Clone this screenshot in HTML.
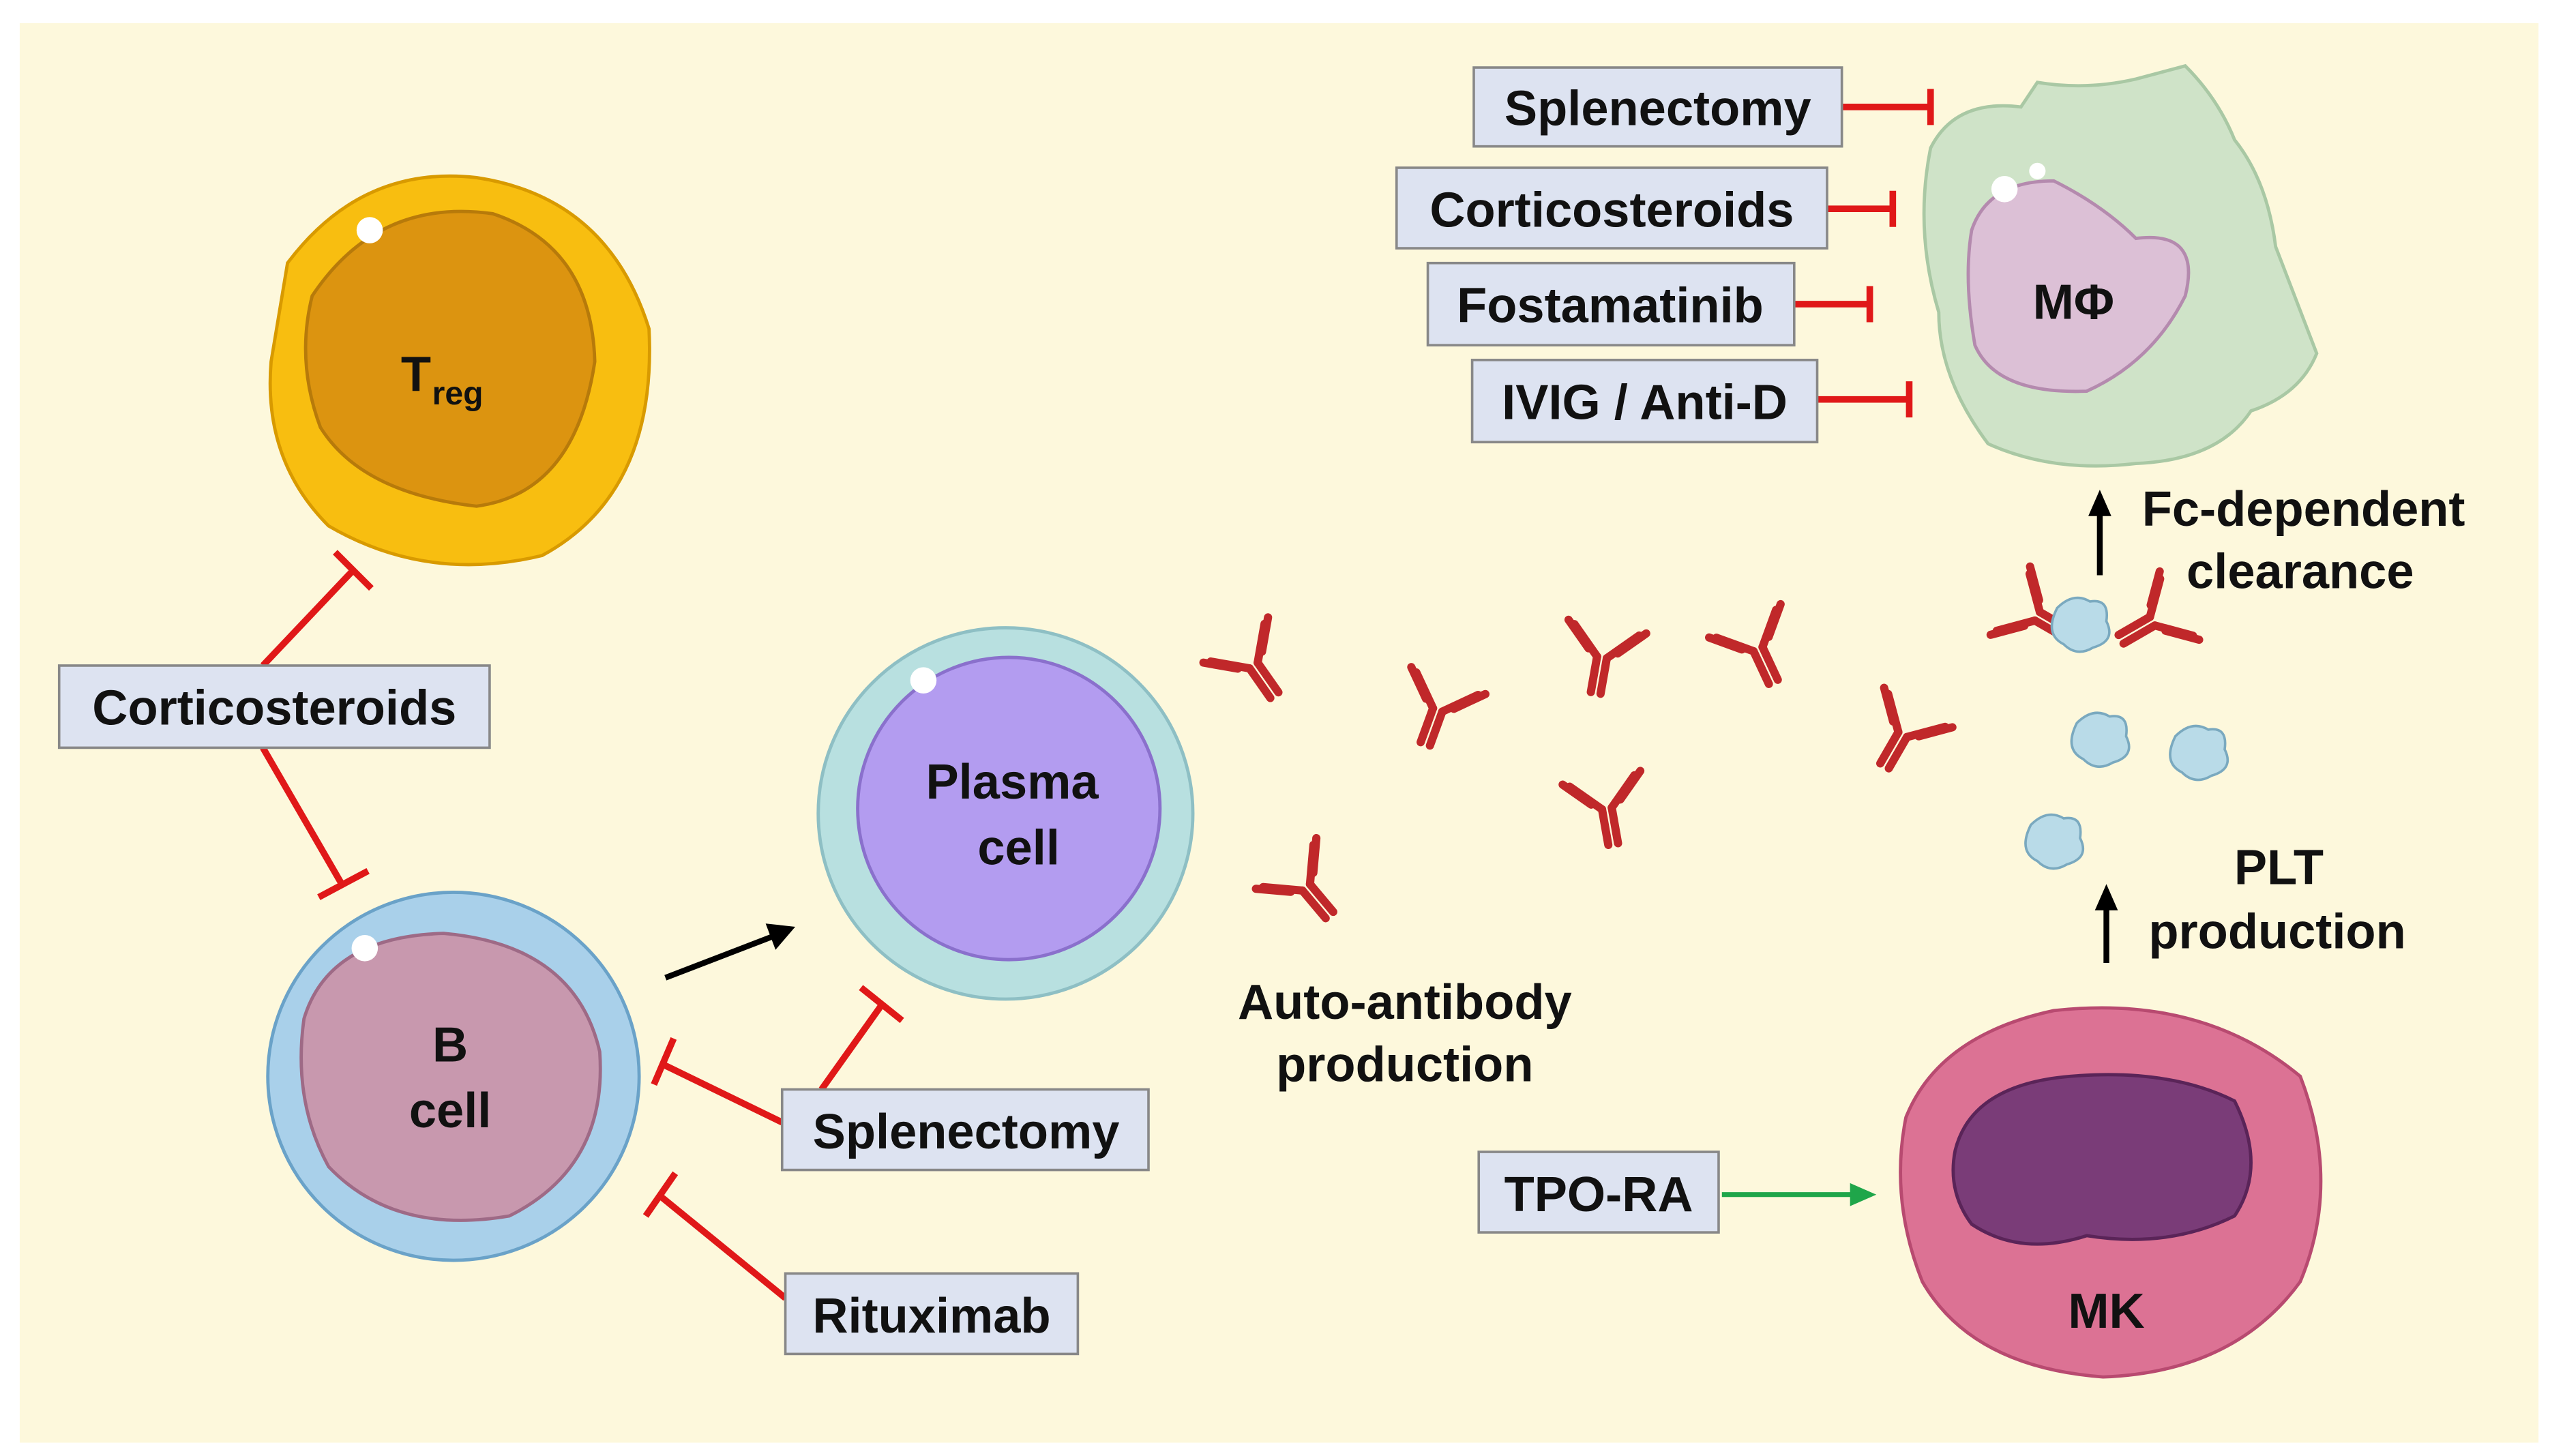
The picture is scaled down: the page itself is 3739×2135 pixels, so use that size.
<!DOCTYPE html>
<html><head><meta charset="utf-8"><style>
html,body{margin:0;padding:0;background:#fff;}
svg{display:block;}
text{font-family:"Liberation Sans",Arial,sans-serif;font-weight:bold;fill:#111;}
</style></head><body>
<svg width="3739" height="2135" viewBox="0 0 1552 886" xmlns="http://www.w3.org/2000/svg">
<defs>
<g id="ab">
 <path d="M0,0 L0,-22 M0,0 L-18,-14 M0,-22 L-20,-36 M0,-22 L20,-36 M0,0 L18,-14" stroke="none"/>
 <g stroke="#c0282a" stroke-width="5" stroke-linecap="round" fill="none">
  <line x1="-3" y1="22" x2="-3" y2="0"/><line x1="3" y1="22" x2="3" y2="0"/>
  <line x1="-3" y1="0" x2="-20" y2="-17"/><line x1="3" y1="0" x2="20" y2="-17"/>
  <line x1="-9" y1="-4" x2="-24" y2="-19"/><line x1="9" y1="-4" x2="24" y2="-19"/>
 </g>
</g>
<g id="plt"><path d="M-14,-10 Q-4,-20 6,-14 Q18,-16 16,-2 Q22,10 8,14 Q-2,20 -10,12 Q-22,6 -14,-10Z" fill="#b9dbe8" stroke="#7aa9bf" stroke-width="1.5"/></g>
</defs>
<rect width="1552" height="886" fill="#fff"/>
<rect x="12" y="14" width="1533" height="864" fill="#fdf8dc"/>

<!-- Treg -->
<path d="M175,160 Q220,100 290,108 Q370,120 395,200 Q400,300 330,338 Q260,355 200,320 Q160,280 165,220 Z" fill="#f8be10" stroke="#d89a00" stroke-width="2"/>
<path d="M190,180 Q230,120 300,130 Q360,150 362,220 Q350,300 290,308 Q220,300 195,260 Q180,220 190,180Z" fill="#dc9410" stroke="#b77a0a" stroke-width="2"/>
<circle cx="225" cy="140" r="8" fill="#fff"/>
<text x="244" y="238" font-size="30">T</text><text x="263" y="246" font-size="20">reg</text>

<!-- Corticosteroids left -->
<g stroke="#e01818" stroke-width="4" fill="none">
<line x1="160" y1="405" x2="214" y2="348"/><line x1="204" y1="336" x2="226" y2="358"/>
<line x1="160" y1="455" x2="208" y2="538"/><line x1="194" y1="546" x2="224" y2="530"/>
<line x1="476" y1="683" x2="404" y2="648"/><line x1="398" y1="660" x2="410" y2="632"/>
<line x1="500" y1="663" x2="537" y2="611"/><line x1="524" y1="601" x2="549" y2="621"/>
<line x1="478" y1="790" x2="402" y2="728"/><line x1="393" y1="740" x2="411" y2="714"/>
<line x1="1121" y1="65" x2="1175" y2="65"/><line x1="1175" y1="54" x2="1175" y2="76"/>
<line x1="1112" y1="127" x2="1152" y2="127"/><line x1="1152" y1="116" x2="1152" y2="138"/>
<line x1="1092" y1="185" x2="1138" y2="185"/><line x1="1138" y1="174" x2="1138" y2="196"/>
<line x1="1106" y1="243" x2="1162" y2="243"/><line x1="1162" y1="232" x2="1162" y2="254"/>
</g>

<!-- B cell -->
<ellipse cx="276" cy="655" rx="113" ry="112" fill="#a9d0ea" stroke="#6aa2c8" stroke-width="2"/>
<path d="M185,620 Q200,570 270,568 Q350,575 365,640 Q370,710 310,740 Q240,752 200,710 Q178,670 185,620Z" fill="#c898ae" stroke="#9e6a86" stroke-width="2"/>
<circle cx="222" cy="577" r="8" fill="#fff"/>
<text x="274" y="646" font-size="30" text-anchor="middle">B</text>
<text x="274" y="686" font-size="30" text-anchor="middle">cell</text>

<!-- arrow -->
<line x1="405" y1="595" x2="470" y2="570" stroke="#000" stroke-width="3.5"/>
<polygon points="484,564 466,562 472,578" fill="#000"/>

<!-- Plasma cell -->
<ellipse cx="612" cy="495" rx="114" ry="113" fill="#b8e0e0" stroke="#8ebfc4" stroke-width="2"/>
<ellipse cx="614" cy="492" rx="92" ry="92" fill="#b39cf0" stroke="#8a70cc" stroke-width="2"/>
<circle cx="562" cy="414" r="8" fill="#fff"/>
<text x="616" y="486" font-size="30" text-anchor="middle">Plasma</text>
<text x="620" y="526" font-size="30" text-anchor="middle">cell</text>

<!-- Macrophage -->
<path d="M1175,90 Q1190,60 1230,65 L1240,50 Q1270,55 1300,48 L1330,40 Q1350,60 1360,85 Q1380,110 1385,150 L1410,215 Q1400,240 1370,250 Q1350,280 1300,282 Q1250,288 1210,270 Q1180,230 1180,190 Q1165,140 1175,90Z" fill="#cfe3c8" stroke="#a9c8a4" stroke-width="2"/>
<path d="M1200,140 Q1210,110 1250,110 Q1280,125 1300,145 Q1340,140 1330,180 Q1310,220 1270,238 Q1215,240 1202,210 Q1195,170 1200,140Z" fill="#dcc0d6" stroke="#b48aae" stroke-width="2"/>
<circle cx="1220" cy="115" r="8" fill="#fff"/><circle cx="1240" cy="104" r="5" fill="#fff"/>
<text x="1262" y="194" font-size="30" text-anchor="middle">MΦ</text>

<!-- MK -->
<path d="M1160,680 Q1180,630 1250,615 Q1340,605 1400,655 Q1425,720 1400,780 Q1360,835 1280,838 Q1200,832 1170,780 Q1150,730 1160,680Z" fill="#dc7294" stroke="#b84a70" stroke-width="2"/>
<path d="M1190,700 Q1200,660 1260,655 Q1320,650 1360,670 Q1380,710 1360,740 Q1320,760 1270,752 Q1230,765 1200,745 Q1185,725 1190,700Z" fill="#7a3c78" stroke="#5a2458" stroke-width="2"/>
<text x="1282" y="808" font-size="30" text-anchor="middle">MK</text>

<!-- antibodies -->
<use href="#ab" transform="translate(763,405) rotate(-35)"/>
<use href="#ab" transform="translate(875,432) rotate(20)"/>
<use href="#ab" transform="translate(975,400) rotate(10)"/>
<use href="#ab" transform="translate(1070,395) rotate(-25)"/>
<use href="#ab" transform="translate(1158,447) rotate(30)"/>
<use href="#ab" transform="translate(978,492) rotate(-10)"/>
<use href="#ab" transform="translate(795,540) rotate(-40)"/>
<use href="#ab" transform="translate(1240,375) rotate(-60)"/>
<use href="#ab" transform="translate(1310,378) rotate(60)"/>

<use href="#plt" transform="translate(1266,380)"/>
<use href="#plt" transform="translate(1278,450)"/>
<use href="#plt" transform="translate(1338,458)"/>
<use href="#plt" transform="translate(1250,512)"/>

<!-- arrows up -->
<line x1="1278" y1="350" x2="1278" y2="312" stroke="#000" stroke-width="3.5"/>
<polygon points="1278,298 1271,314 1285,314" fill="#000"/>
<line x1="1282" y1="586" x2="1282" y2="552" stroke="#000" stroke-width="3.5"/>
<polygon points="1282,538 1275,554 1289,554" fill="#000"/>

<!-- green arrow -->
<line x1="1048" y1="727" x2="1128" y2="727" stroke="#1fa64a" stroke-width="3"/>
<polygon points="1142,727 1126,720 1126,734" fill="#1fa64a"/>

<!-- boxes -->
<g fill="#dde3f1" stroke="#888" stroke-width="1.5">
<rect x="36" y="405" width="262" height="50"/>
<rect x="476" y="663" width="223" height="49"/>
<rect x="478" y="775" width="178" height="49"/>
<rect x="897" y="41" width="224" height="48"/>
<rect x="850" y="102" width="262" height="49"/>
<rect x="869" y="160" width="223" height="50"/>
<rect x="896" y="219" width="210" height="50"/>
<rect x="900" y="701" width="146" height="49"/>
</g>
<g font-size="30">
<text x="167" y="441" text-anchor="middle">Corticosteroids</text>
<text x="588" y="699" text-anchor="middle">Splenectomy</text>
<text x="567" y="811" text-anchor="middle">Rituximab</text>
<text x="1009" y="76" text-anchor="middle">Splenectomy</text>
<text x="981" y="138" text-anchor="middle">Corticosteroids</text>
<text x="980" y="196" text-anchor="middle">Fostamatinib</text>
<text x="1001" y="255" text-anchor="middle">IVIG / Anti-D</text>
<text x="973" y="737" text-anchor="middle">TPO-RA</text>
<text x="855" y="620" text-anchor="middle">Auto-antibody</text>
<text x="855" y="658" text-anchor="middle">production</text>
<text x="1402" y="320" text-anchor="middle">Fc-dependent</text>
<text x="1400" y="358" text-anchor="middle">clearance</text>
<text x="1387" y="538" text-anchor="middle">PLT</text>
<text x="1386" y="577" text-anchor="middle">production</text>
</g>
</svg>
</body></html>
